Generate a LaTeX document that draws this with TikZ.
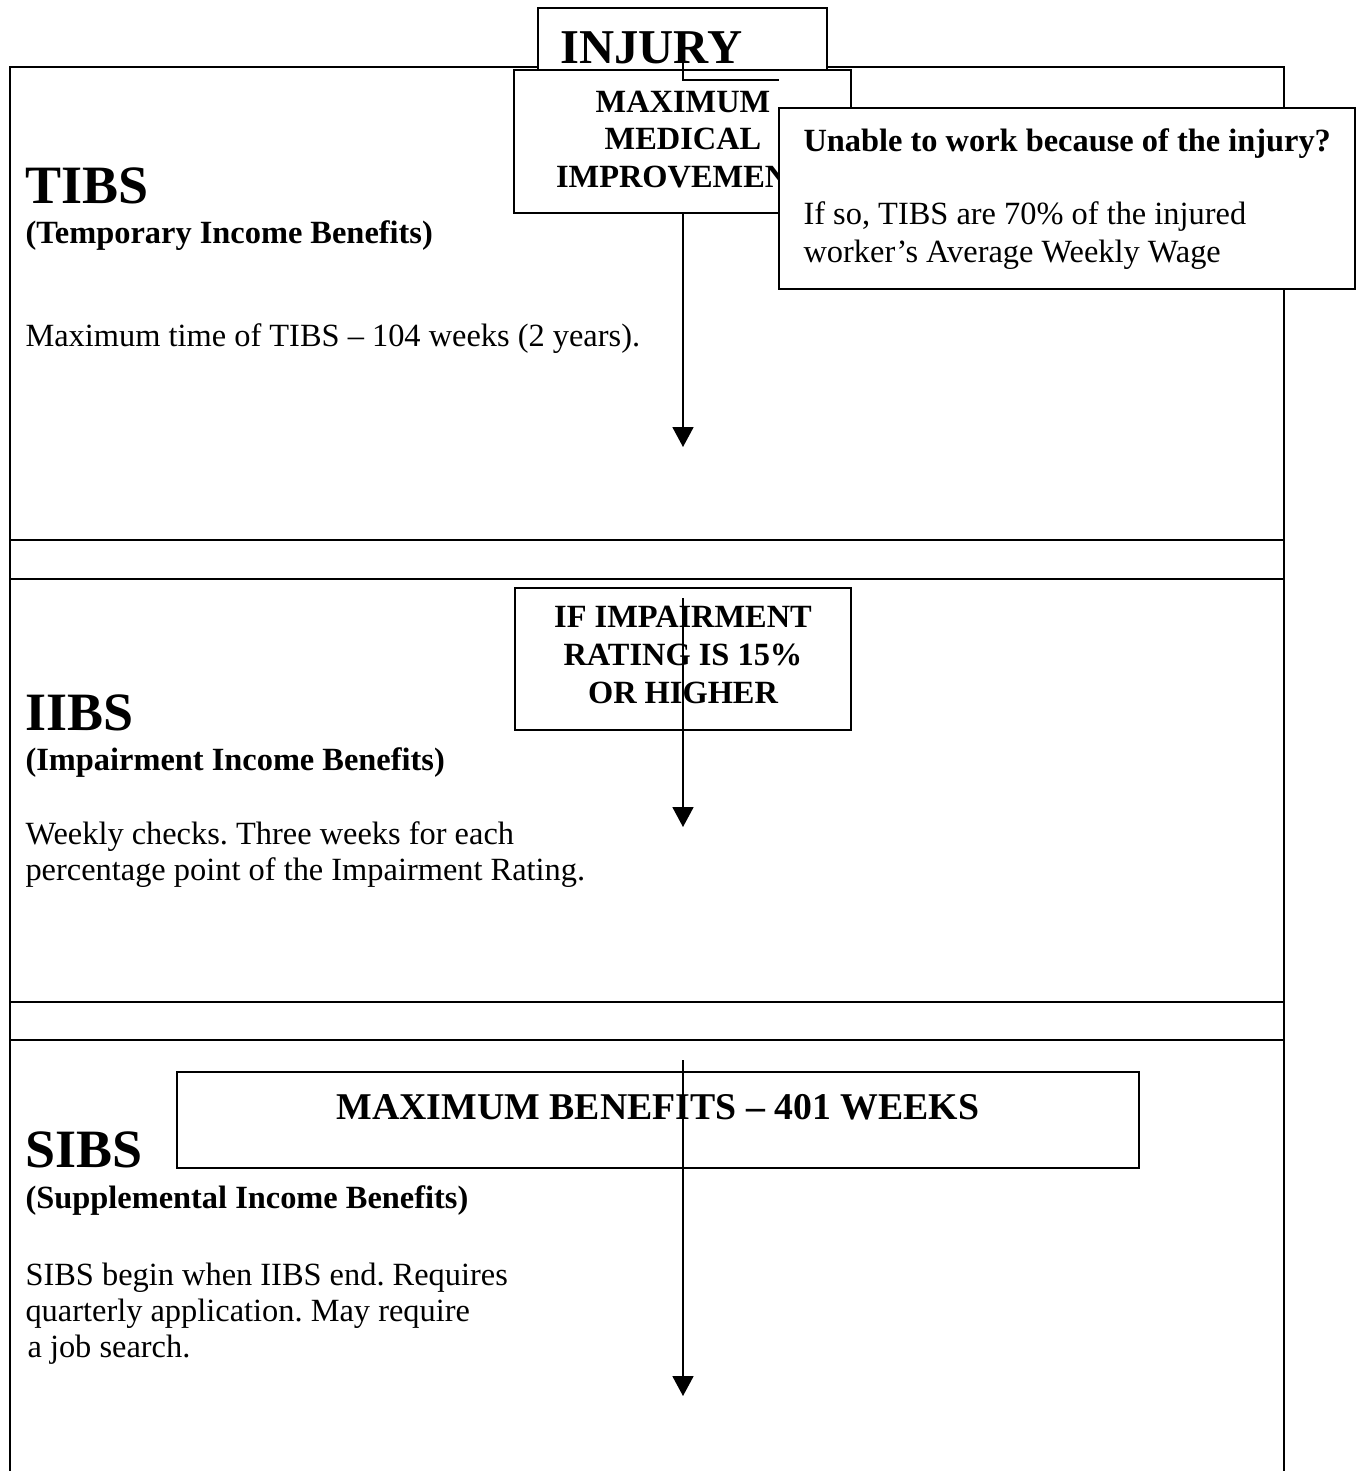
\documentclass[tikz,border=0pt]{standalone}
\usepackage{fontspec}
\setmainfont{Liberation Serif}
\usetikzlibrary{arrows.meta}
\frenchspacing
\tikzset{
  rowline/.style={line width=0.9pt},
  boxed/.style={draw, line width=0.75pt, fill=white},
  conn/.style={line width=0.6pt},
  arr/.style={line width=0.6pt, -{Triangle[width=7.8pt,length=7.4pt]}},
  txt/.style={inner sep=0pt, anchor=base west},
  ctxt/.style={inner sep=0pt, anchor=base},
  body/.style={font=\fontsize{12}{13.5}\selectfont},
  bbody/.style={font=\fontsize{12}{13.5}\selectfont\bfseries},
  big/.style={font=\fontsize{20}{22}\selectfont\bfseries},
}
\begin{document}
\begin{tikzpicture}[x=0.37037pt, y=-0.37037pt]
\useasboundingbox (0,0) rectangle (1361,1471);
% table frame
\draw[rowline] (10,1471) -- (10,67) -- (1284,67) -- (1284,1471);
\draw[rowline] (10,540) -- (1284,540);
\draw[rowline] (10,579) -- (1284,579);
\draw[rowline] (10,1002) -- (1284,1002);
\draw[rowline] (10,1040) -- (1284,1040);

% INJURY box
\draw[boxed] (538,8) rectangle (827,74);
\node[txt, font=\fontsize{18}{20}\selectfont\bfseries] (injury) at (560,63) {INJURY};

% arrow 1 (behind MMI box)
\coordinate (a1s) at (683,60);
\coordinate (a1e) at (683,447);
\draw[arr] (a1s) -- (a1e);

% MMI box
\draw[boxed] (514,70) rectangle (851,213);
\node[ctxt, bbody] (mmi1) at (683,112) {MAXIMUM};
\node[ctxt, bbody] (mmi2) at (683,149) {MEDICAL};
\node[ctxt, bbody] (mmi3) at (683,187) {IMPROVEMENT};

% short elbow line on top
\coordinate (e1) at (683,80);
\coordinate (e2) at (779,80);
\draw[conn] (a1s) -- (e1) -- (e2);

% Unable box
\draw[boxed] (779,108) rectangle (1355,289);
\node[txt, bbody] (un1) at (803,151) {Unable to work because of the injury?};
\node[txt, body] (un2) at (803,224) {If so, TIBS are 70\% of the injured};
\node[txt, body] (un3) at (803,262) {worker’s Average Weekly Wage};

% TIBS row
\node[txt, big] (tibs) at (25,203) {TIBS};
\node[txt, bbody] (tibsf) at (25,243) {(Temporary Income Benefits)};
\node[txt, body] (tibsd) at (25,346) {Maximum time of TIBS – 104 weeks (2 years).};

% IIBS row
\draw[boxed] (515,588) rectangle (851,730);
\node[ctxt, bbody] (if1) at (683,627) {IF IMPAIRMENT};
\node[ctxt, bbody] (if2) at (683,665) {RATING IS 15\%};
\node[ctxt, bbody] (if3) at (683,703) {OR HIGHER};
\coordinate (a2s) at (683,598);
\coordinate (a2e) at (683,827);
\draw[arr] (a2s) -- (a2e);
\node[txt, big] (iibs) at (25,730) {IIBS};
\node[txt, bbody] (iibsf) at (25,770) {(Impairment Income Benefits)};
\node[txt, body] (iibs1) at (25,844) {Weekly checks. Three weeks for each};
\node[txt, body] (iibs2) at (25,880) {percentage point of the Impairment Rating.};

% SIBS row
\draw[boxed] (177,1072) rectangle (1139,1168);
\node[ctxt, font=\fontsize{14}{16}\selectfont\bfseries] (maxb) at (658,1119) {MAXIMUM BENEFITS – 401 WEEKS};
\coordinate (a3s) at (683,1060);
\coordinate (a3e) at (683,1396);
\draw[arr] (a3s) -- (a3e);
\node[txt, big] (sibs) at (25,1167) {SIBS};
\node[txt, bbody] (sibsf) at (25,1208) {(Supplemental Income Benefits)};
\node[txt, body] (sibs1) at (25,1285) {SIBS begin when IIBS end. Requires};
\node[txt, body] (sibs2) at (25,1321) {quarterly application. May require};
\node[txt, body] (sibs3) at (27,1357) {a job search.};
\end{tikzpicture}
\end{document}
